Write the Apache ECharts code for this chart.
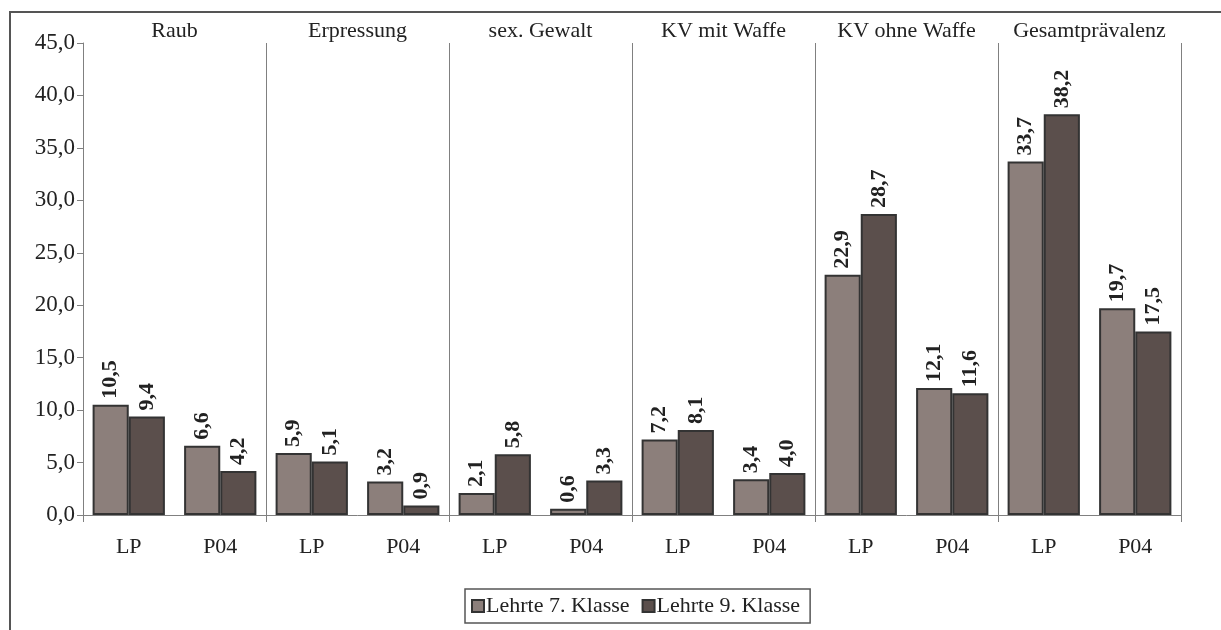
<!DOCTYPE html>
<html>
<head>
<meta charset="utf-8">
<script src="https://cdn.jsdelivr.net/npm/echarts@6/dist/echarts.min.js"></script>
<style>
  html, body { margin: 0; padding: 0; background: #fff; }
  #chart { width: 1221px; height: 630px; }
</style>
</head>
<body>
<div id="chart"></div>
<script>
  // Gruppen und Unterkategorien
  var groups = ['Raub', 'Erpressung', 'sex. Gewalt', 'KV mit Waffe', 'KV ohne Waffe', 'Gesamtprävalenz'];
  var subLabels = ['LP', 'P04', 'LP', 'P04', 'LP', 'P04', 'LP', 'P04', 'LP', 'P04', 'LP', 'P04'];
  var klasse7 = [10.5, 6.6, 5.9, 3.2, 2.1, 0.6, 7.2, 3.4, 22.9, 12.1, 33.7, 19.7];
  var klasse9 = [9.4, 4.2, 5.1, 0.9, 5.8, 3.3, 8.1, 4.0, 28.7, 11.6, 38.2, 17.5];

  var serif = '"Liberation Serif", "DejaVu Serif", serif';
  var fmt = function (v) { return Number(v).toFixed(1).replace('.', ','); };

  var chart = echarts.init(document.getElementById('chart'));

  var label = {
    show: true,
    position: 'top',
    rotate: 90,
    align: 'left',
    verticalAlign: 'middle',
    distance: 6,
    fontFamily: serif,
    fontWeight: 'bold',
    fontSize: 22,
    color: '#222',
    formatter: function (p) { return fmt(p.value); }
  };

  chart.setOption({
    animation: false,
    grid: { left: 83, right: 40, top: 43, bottom: 115 },
    graphic: [{
      type: 'rect',
      shape: { x: 10, y: 12, width: 1400, height: 800 },
      style: { fill: 'none', stroke: '#555', lineWidth: 2 },
      silent: true
    }],
    legend: {
      data: ['Lehrte 7. Klasse', 'Lehrte 9. Klasse'],
      bottom: 7,
      left: 465,
      itemWidth: 12,
      itemHeight: 12,
      itemGap: 12,
      padding: [6, 10, 6, 6],
      borderColor: '#555',
      borderWidth: 1.5,
      icon: 'rect',
      textStyle: { fontFamily: serif, fontSize: 22, color: '#222', padding: [0, 0, 0, -3] }
    },
    xAxis: [{
      type: 'category',
      data: subLabels,
      position: 'bottom',
      axisLine: { lineStyle: { color: '#808080', width: 1 } },
      axisTick: { show: false },
      axisLabel: { interval: 0, fontFamily: serif, fontSize: 22, color: '#222', margin: 21 }
    }, {
      type: 'category',
      data: groups,
      position: 'bottom',
      axisLine: { show: false },
      axisTick: { show: true, interval: 0, length: 7, lineStyle: { color: '#808080' } },
      axisLabel: { show: false },
      splitLine: { show: true, interval: 0, lineStyle: { color: '#808080', width: 1 } }
    }, {
      type: 'category',
      data: groups,
      position: 'top',
      axisLine: { show: false },
      axisTick: { show: false },
      axisLabel: { interval: 0, hideOverlap: false, fontFamily: serif, fontSize: 22, color: '#222', margin: 1 }
    }],
    yAxis: {
      type: 'value',
      min: 0,
      max: 45,
      interval: 5,
      axisLine: { show: true, lineStyle: { color: '#808080' } },
      axisTick: { show: true, length: 6, lineStyle: { color: '#808080' } },
      splitLine: { show: false },
      axisLabel: { fontFamily: serif, fontSize: 23, color: '#222', margin: 8, formatter: fmt }
    },
    series: [{
      name: 'Lehrte 7. Klasse',
      type: 'bar',
      data: klasse7,
      barGap: '0%',
      barCategoryGap: '21%',
      itemStyle: { color: '#8c7f7b', borderColor: '#333', borderWidth: 2 },
      label: label
    }, {
      name: 'Lehrte 9. Klasse',
      type: 'bar',
      data: klasse9,
      barGap: '0%',
      barCategoryGap: '21%',
      itemStyle: { color: '#5b4f4c', borderColor: '#333', borderWidth: 2 },
      label: label
    }]
  });
</script>
</body>
</html>
